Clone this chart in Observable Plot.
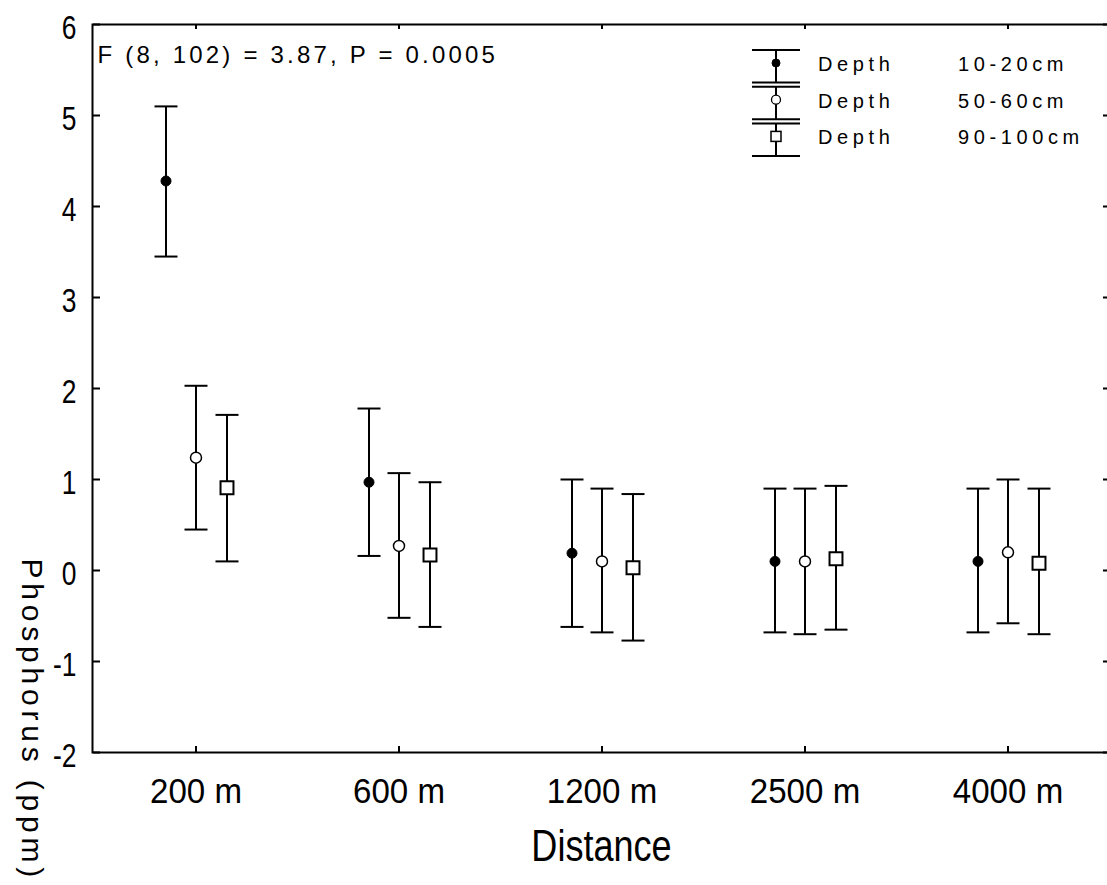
<!DOCTYPE html>
<html><head><meta charset="utf-8">
<script src="https://cdn.jsdelivr.net/npm/d3@7"></script>
<script src="https://cdn.jsdelivr.net/npm/@observablehq/plot@0.6"></script>
<style>
html,body{margin:0;padding:0;background:#fff;overflow:hidden}
#chart svg{display:block}
.legend text{letter-spacing:4.6px}
</style></head><body><div id="chart"></div>
<script>
// ---- data ----
const distances = ["200 m", "600 m", "1200 m", "2500 m", "4000 m"];
const depths = ["10-20cm", "50-60cm", "90-100cm"];
const mean_10_20 = [4.28, 0.97, 0.19, 0.10, 0.10];
const lo_10_20   = [3.45, 0.16, -0.62, -0.68, -0.68];
const hi_10_20   = [5.10, 1.78, 1.00, 0.90, 0.90];
const mean_50_60 = [1.24, 0.27, 0.10, 0.10, 0.20];
const lo_50_60   = [0.45, -0.52, -0.68, -0.70, -0.58];
const hi_50_60   = [2.03, 1.07, 0.90, 0.90, 1.00];
const mean_90_100 = [0.91, 0.17, 0.03, 0.13, 0.08];
const lo_90_100   = [0.10, -0.62, -0.77, -0.65, -0.70];
const hi_90_100   = [1.71, 0.97, 0.84, 0.93, 0.90];
const yTicks = [-2, -1, 0, 1, 2, 3, 4, 5, 6];
const statText = "F (8, 102) = 3.87, P = 0.0005";
const yLabel = "Phosphorus (ppm)";
const xLabel = "Distance";
const legendWord = "Depth";

const means = [mean_10_20, mean_50_60, mean_90_100];
const lows = [lo_10_20, lo_50_60, lo_90_100];
const highs = [hi_10_20, hi_50_60, hi_90_100];

const rows = distances.flatMap((d, i) => depths.map((dep, j) => ({
  distance: d, depth: dep, mean: means[j][i], lo: lows[j][i], hi: highs[j][i]
})));

// ---- styles ----
const font = "'Liberation Sans',Arial,sans-serif";
const dodge = {"10-20cm": -30, "50-60cm": 0, "90-100cm": 31};
const markerStyle = {
  "10-20cm": {symbol: "circle", r: 5, fill: "black", stroke: "black", strokeWidth: 1},
  "50-60cm": {symbol: "circle", r: 5.5, fill: "white", stroke: "black", strokeWidth: 1.5},
  "90-100cm": {symbol: "square", r: 7.3, fill: "white", stroke: "black", strokeWidth: 2}
};
const hline = {draw(ctx, size) { const w = Math.sqrt(size / Math.PI); ctx.moveTo(-w, 0); ctx.lineTo(w, 0); }};
const blank = () => "";

const seriesMarks = depths.flatMap(dep => {
  const sub = rows.filter(r => r.depth === dep);
  const dx = dodge[dep];
  return [
    Plot.ruleX(sub, {x: "distance", y1: "lo", y2: "hi", dx, stroke: "black", strokeWidth: 2}),
    Plot.dot(sub, {x: "distance", y: "hi", dx, symbol: hline, r: 11.5, fill: "none", stroke: "black", strokeWidth: 2}),
    Plot.dot(sub, {x: "distance", y: "lo", dx, symbol: hline, r: 11.5, fill: "none", stroke: "black", strokeWidth: 2}),
    Plot.dot(sub, {x: "distance", y: "mean", dx, ...markerStyle[dep]})
  ];
});

const chart = Plot.plot({
  width: 1107,
  height: 885,
  marginLeft: 92,
  marginRight: -3,
  marginTop: 24,
  marginBottom: 133,
  style: {background: "white", color: "black", overflow: "hidden", fontFamily: font},
  x: {type: "band", domain: distances, padding: 0, label: null},
  y: {domain: [-2, 6], label: null},
  marks: [
    Plot.frame({stroke: "black", strokeWidth: 2}),
    // tick labels
    Plot.axisY({ticks: yTicks, tickSize: 0, tickPadding: 16, fontSize: 33, dy: 4, tickFormat: d => String(d), label: null}),
    Plot.axisX({tickSize: 0, tickPadding: 25, fontSize: 36, label: null}),
    // inward ticks on all four sides
    Plot.axisY({anchor: "right", frameAnchor: "left", ticks: yTicks, tickSize: 7, strokeWidth: 2, tickFormat: blank, label: null}),
    Plot.axisY({anchor: "left", frameAnchor: "right", ticks: yTicks, tickSize: 7, strokeWidth: 2, tickFormat: blank, label: null}),
    Plot.axisX({anchor: "top", frameAnchor: "bottom", tickSize: 7, strokeWidth: 2, tickFormat: blank, label: null}),
    Plot.axisX({anchor: "bottom", frameAnchor: "top", tickSize: 5, strokeWidth: 2, tickFormat: blank, label: null}),
    ...seriesMarks,
    Plot.text([statText], {text: d => d, frameAnchor: "top-left", textAnchor: "start", lineAnchor: "top", dx: 5, dy: 21, fontSize: 24}),
    Plot.text([yLabel], {text: d => d, frameAnchor: "left", rotate: 90, textAnchor: "start", dx: -61, dy: 170, fontSize: 30}),
    Plot.text([xLabel], {text: d => d, frameAnchor: "bottom", dy: 94, fontSize: 44, lineAnchor: "middle"})
  ]
});
document.getElementById("chart").appendChild(chart);

const svg = d3.select(chart);
// narrow glyphs for axis texts (horizontal squeeze about each text's anchor)
function squeeze(sel, k) {
  sel.each(function() {
    const t = this.getAttribute("transform") || "";
    this.setAttribute("transform", t + ` scale(${k},1)`);
  });
}
squeeze(svg.selectAll('g[aria-label="y-axis tick label"] text'), 0.8);
squeeze(svg.selectAll('g[aria-label="x-axis tick label"] text'), 0.92);
squeeze(svg.selectAll("text").filter(function() { return this.textContent === xLabel; }), 0.82);
svg.selectAll("text").filter(function() { return this.textContent === statText; }).style("letter-spacing", "3.2px");
svg.selectAll("text").filter(function() { return this.textContent === yLabel; }).style("letter-spacing", "4.8px");

// ---- legend (top right, inside frame) ----
const lg = svg.append("g").attr("class", "legend").attr("font-family", font).attr("font-size", 20).attr("text-anchor", "start");
depths.forEach((dep, i) => {
  const top = 50 + 36.7 * i, bottom = top + 32.5, mid = top + 13;
  const g = lg.append("g");
  g.append("line").attr("x1", 776).attr("x2", 776).attr("y1", top).attr("y2", bottom).attr("stroke", "black").attr("stroke-width", 2);
  g.append("line").attr("x1", 752).attr("x2", 800).attr("y1", top).attr("y2", top).attr("stroke", "black").attr("stroke-width", 2);
  g.append("line").attr("x1", 752).attr("x2", 800).attr("y1", bottom).attr("y2", bottom).attr("stroke", "black").attr("stroke-width", 2);
  const st = markerStyle[dep];
  if (st.symbol === "square") {
    g.append("rect").attr("x", 771).attr("y", mid - 5).attr("width", 10).attr("height", 10).attr("fill", "white").attr("stroke", "black").attr("stroke-width", 1.5);
  } else {
    g.append("circle").attr("cx", 776).attr("cy", mid).attr("r", i === 0 ? 4 : 4.5).attr("fill", st.fill).attr("stroke", "black").attr("stroke-width", i === 0 ? 1 : 1.3);
  }
  g.append("text").attr("x", 818).attr("y", mid + 1).attr("dominant-baseline", "central").text(legendWord);
  g.append("text").attr("x", 958).attr("y", mid + 1).attr("dominant-baseline", "central").text(dep);
});
</script>
</body></html>
